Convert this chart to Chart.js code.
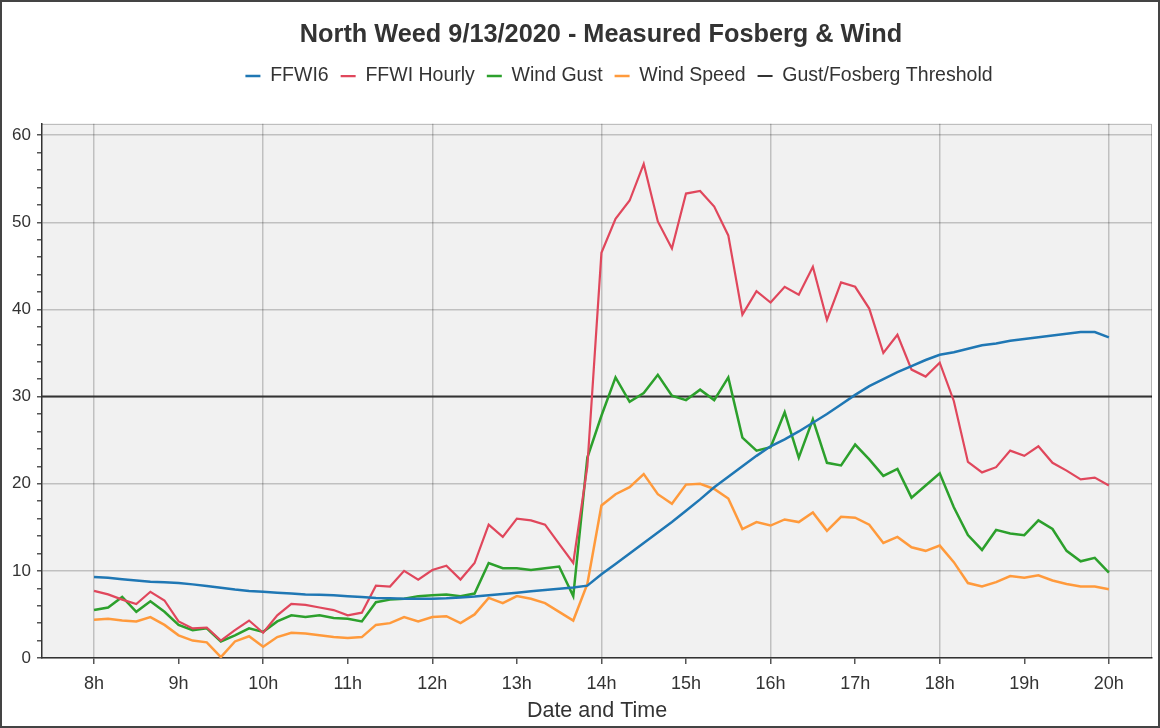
<!DOCTYPE html>
<html>
<head>
<meta charset="utf-8">
<script src="https://cdn.jsdelivr.net/npm/chart.js@4.4.1/dist/chart.umd.min.js"></script>
<style>
  html, body { margin: 0; padding: 0; background: #fff; }
  canvas { display: block; }
</style>
</head>
<body>
<canvas id="chart" width="1160" height="728"></canvas>
<script>
// Lecturas cada 10 minutos, de 8:00 a 20:00
const times = [
  '08:00','08:10','08:20','08:30','08:40','08:50',
  '09:00','09:10','09:20','09:30','09:40','09:50',
  '10:00','10:10','10:20','10:30','10:40','10:50',
  '11:00','11:10','11:20','11:30','11:40','11:50',
  '12:00','12:10','12:20','12:30','12:40','12:50',
  '13:00','13:10','13:20','13:30','13:40','13:50',
  '14:00','14:10','14:20','14:30','14:40','14:50',
  '15:00','15:10','15:20','15:30','15:40','15:50',
  '16:00','16:10','16:20','16:30','16:40','16:50',
  '17:00','17:10','17:20','17:30','17:40','17:50',
  '18:00','18:10','18:20','18:30','18:40','18:50',
  '19:00','19:10','19:20','19:30','19:40','19:50',
  '20:00'
];

const ffwi6 = [
  9.3, 9.2, 9.05, 8.9, 8.75, 8.7,
  8.6, 8.45, 8.25, 8.05, 7.85, 7.7,
  7.6, 7.5, 7.4, 7.3, 7.25, 7.2,
  7.1, 7.0, 6.9, 6.85, 6.8, 6.8,
  6.8, 6.85, 6.95, 7.05, 7.2, 7.35,
  7.5, 7.65, 7.8, 7.95, 8.1, 8.3,
  9.6, 10.8, 12.0, 13.2, 14.4, 15.6,
  16.9, 18.2, 19.6, 20.8, 22.0, 23.2,
  24.3, 25.1, 26.0, 27.0, 28.0, 29.1,
  30.2, 31.2, 32.0, 32.8, 33.5, 34.2,
  34.8, 35.1, 35.5, 35.9, 36.1, 36.4,
  36.6, 36.8, 37.0, 37.2, 37.4, 37.4,
  36.8
];

const ffwiHourly = [
  7.7, 7.3, 6.7, 6.2, 7.6, 6.6,
  4.2, 3.4, 3.5, 2.0, 3.2, 4.3,
  2.9, 4.9, 6.2, 6.1, 5.8, 5.5,
  4.9, 5.2, 8.3, 8.2, 10.0, 9.0,
  10.1, 10.6, 9.0, 10.9, 15.3, 13.9,
  16.0, 15.8, 15.3, 13.1, 10.9, 22.0,
  46.5, 50.4, 52.5, 56.7, 50.1, 47.0,
  53.3, 53.6, 51.8, 48.5, 39.4, 42.1,
  40.8, 42.6, 41.7, 44.9, 38.8, 43.1,
  42.6, 40.1, 35.0, 37.1, 33.1, 32.3,
  33.9, 29.5, 22.5, 21.3, 21.9, 23.8,
  23.2, 24.3, 22.4, 21.5, 20.5, 20.7,
  19.8
];

const windGust = [
  5.5, 5.8, 7.0, 5.3, 6.5, 5.3,
  3.8, 3.2, 3.4, 1.9, 2.6, 3.4,
  3.0, 4.2, 4.9, 4.7, 4.9, 4.6,
  4.5, 4.2, 6.4, 6.7, 6.8, 7.1,
  7.2, 7.3, 7.1, 7.4, 10.9, 10.3,
  10.3, 10.1, 10.3, 10.5, 7.1, 23.0,
  27.8, 32.2, 29.4, 30.4, 32.5, 30.1,
  29.6, 30.8, 29.6, 32.2, 25.3, 23.8,
  24.2, 28.2, 23.0, 27.4, 22.4, 22.1,
  24.5, 22.8, 20.9, 21.7, 18.4, 19.8,
  21.2, 17.3, 14.1, 12.4, 14.7, 14.3,
  14.1, 15.8, 14.8, 12.3, 11.1, 11.5,
  9.8
];

const windSpeed = [
  4.4, 4.5, 4.3, 4.2, 4.7, 3.8,
  2.6, 2.0, 1.8, 0.1, 1.9, 2.5,
  1.3, 2.4, 2.9, 2.8, 2.6, 2.4,
  2.3, 2.4, 3.8, 4.0, 4.7, 4.2,
  4.7, 4.8, 4.0, 5.0, 6.9, 6.3,
  7.1, 6.8, 6.3, 5.3, 4.3, 8.5,
  17.5, 18.8, 19.6, 21.1, 18.8, 17.7,
  19.9, 20.0, 19.4, 18.3, 14.8, 15.6,
  15.2, 15.9, 15.6, 16.7, 14.6, 16.2,
  16.1, 15.3, 13.2, 13.9, 12.7, 12.3,
  12.9, 11.0, 8.6, 8.2, 8.7, 9.4,
  9.2, 9.5, 8.9, 8.5, 8.2, 8.2,
  7.9
];

const thresholdValue = 30;

const hourTicks = [8, 9, 10, 11, 12, 13, 14, 15, 16, 17, 18, 19, 20];
const hourLabels = ['8h', '9h', '10h', '11h', '12h', '13h', '14h', '15h', '16h', '17h', '18h', '19h', '20h'];
const yLabels = [0, 10, 20, 30, 40, 50, 60];

const xMin = 7.385, xMax = 20.51;
const yMin = 0, yMax = 61.3;

// hora decimal para el eje lineal
const hours = times.map(t => Number(t.slice(0, 2)) + Number(t.slice(3)) / 60);
const toPoints = arr => arr.map((v, i) => ({ x: hours[i], y: v }));

const FONT = "'Liberation Sans', Arial, sans-serif";
const gridColor = 'rgba(0,0,0,0.2)';

// fondo gris del área de trazado y marco de la imagen
const backgroundPlugin = {
  id: 'plotBackground',
  beforeDraw(chart) {
    const { ctx, chartArea: a } = chart;
    ctx.save();
    ctx.fillStyle = '#f1f1f1';
    ctx.fillRect(a.left, a.top, a.right - a.left, a.bottom - a.top);
    ctx.restore();
  },
  afterDraw(chart) {
    const { ctx, chartArea: a } = chart;
    ctx.save();
    ctx.strokeStyle = 'rgba(0,0,0,0.25)';
    ctx.lineWidth = 1;
    ctx.beginPath();
    ctx.moveTo(a.left, a.top + 0.5);
    ctx.lineTo(a.right - 0.5, a.top + 0.5);
    ctx.lineTo(a.right - 0.5, a.bottom);
    ctx.stroke();
    ctx.strokeStyle = '#444';
    ctx.lineWidth = 2;
    ctx.strokeRect(1, 1, chart.width - 2, chart.height - 2);
    ctx.restore();
  }
};

// desplaza un bloque (título / leyenda) en horizontal al dibujarlo
const shiftDraw = (box, dx) => {
  const draw = box.draw;
  box.draw = function () {
    const c = this.ctx;
    c.save();
    c.translate(dx, 0);
    draw.apply(this, arguments);
    c.restore();
  };
};

// espacio extra bajo la leyenda y centrado como en el original
const headerTweaks = {
  id: 'headerTweaks',
  beforeInit(chart) {
    const fit = chart.legend.fit;
    chart.legend.fit = function () {
      fit.call(this);
      this.height += 28;
    };
    shiftDraw(chart.legend, 43);
    shiftDraw(chart.titleBlock, 25);
  }
};

const ctx = document.getElementById('chart').getContext('2d');
const chart = new Chart(ctx, {
  type: 'line',
  data: {
    datasets: [
      { label: 'FFWI6', data: toPoints(ffwi6), borderColor: '#1f77b4', backgroundColor: '#1f77b4', borderWidth: 2.5 },
      { label: 'FFWI Hourly', data: toPoints(ffwiHourly), borderColor: '#e0475c', backgroundColor: '#e0475c', borderWidth: 2.2 },
      { label: 'Wind Gust', data: toPoints(windGust), borderColor: '#2ca02c', backgroundColor: '#2ca02c', borderWidth: 2.5 },
      { label: 'Wind Speed', data: toPoints(windSpeed), borderColor: '#ff9a3c', backgroundColor: '#ff9a3c', borderWidth: 2.5 },
      { label: 'Gust/Fosberg Threshold', data: [{ x: xMin, y: thresholdValue }, { x: xMax, y: thresholdValue }], borderColor: '#333', backgroundColor: '#333', borderWidth: 2 }
    ]
  },
  options: {
    responsive: false,
    animation: false,
    parsing: false,
    elements: { point: { radius: 0 }, line: { tension: 0 } },
    layout: { padding: { top: 6, right: 8, bottom: 4, left: 0 } },
    plugins: {
      tooltip: { enabled: false },
      title: {
        display: true,
        text: 'North Weed 9/13/2020 - Measured Fosberg & Wind',
        color: '#333',
        font: { family: FONT, size: 25.3, weight: 'bold' },
        padding: { top: 14, bottom: 4 }
      },
      legend: {
        labels: {
          color: '#333',
          font: { family: FONT, size: 19.5 },
          usePointStyle: true,
          pointStyle: 'line',
          pointStyleWidth: 15,
          padding: 12
        }
      }
    },
    scales: {
      x: {
        type: 'linear',
        min: xMin,
        max: xMax,
        afterBuildTicks: s => { s.ticks = hourTicks.map(v => ({ value: v })); },
        afterFit: s => { s.height = 66; },
        ticks: {
          color: '#333',
          font: { family: FONT, size: 18 },
          padding: 9,
          maxRotation: 0,
          autoSkip: false,
          callback: (v, i) => hourLabels[i]
        },
        grid: {
          color: c => (c.tick && c.tick.value % 2 === 0 ? gridColor : 'transparent'),
          lineWidth: 1.5,
          tickColor: '#555',
          tickLength: 6
        },
        border: { color: '#333', width: 1.5 },
        title: {
          display: true,
          text: 'Date and Time',
          color: '#333',
          font: { family: FONT, size: 21.5 },
          padding: 0
        }
      },
      y: {
        min: yMin,
        max: yMax,
        afterBuildTicks: s => {
          const t = [];
          for (let v = 0; v <= 60; v += 2) t.push({ value: v });
          s.ticks = t;
        },
        afterFit: s => { s.width = 42; },
        ticks: {
          color: '#333',
          font: { family: FONT, size: 17 },
          padding: 6,
          autoSkip: false,
          callback: v => (yLabels.includes(v) ? String(v) : '')
        },
        grid: {
          color: c => (c.tick && c.tick.value % 10 === 0 ? gridColor : 'transparent'),
          lineWidth: 1.5,
          tickColor: '#555',
          tickLength: 5
        },
        border: { color: '#333', width: 1.5 }
      }
    }
  },
  plugins: [backgroundPlugin, headerTweaks]
});
</script>
</body>
</html>
